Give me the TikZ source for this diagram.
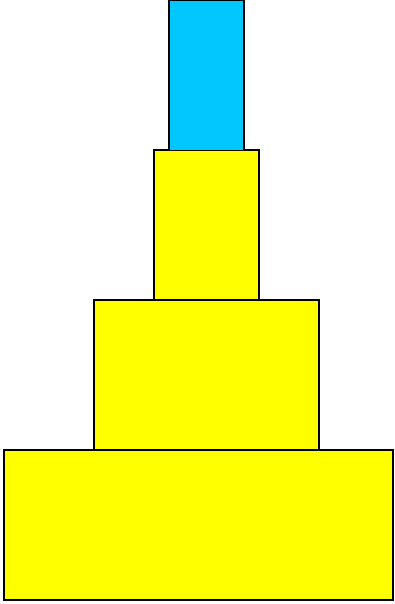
\documentclass[tikz,border=0pt]{standalone}
\usepackage{tikz}
\usetikzlibrary{positioning}
\definecolor{towerblue}{HTML}{00C8FF}
\definecolor{toweryellow}{HTML}{FFFF00}

\begin{document}
\begin{tikzpicture}[x=1pt, y=-1pt,
      tier/.style={rectangle, draw=black, line width=1.3pt, fill=toweryellow,
        minimum height=150pt, inner sep=0pt, outer sep=0pt},
      top/.style={tier, fill=towerblue}
    ]
      \useasboundingbox (0,0) rectangle (394,604);
      \node[tier, minimum width=389pt] (t4) at (198.5,525) {};
      \node[tier, minimum width=225pt] (t3) at (206.5,375) {};
      \node[tier, minimum width=105pt] (t2) at (206.5,225) {};
      \node[top, minimum width=75pt]   (t1) at (206.5,75.5) {};
    \end{tikzpicture}
\end{document}
